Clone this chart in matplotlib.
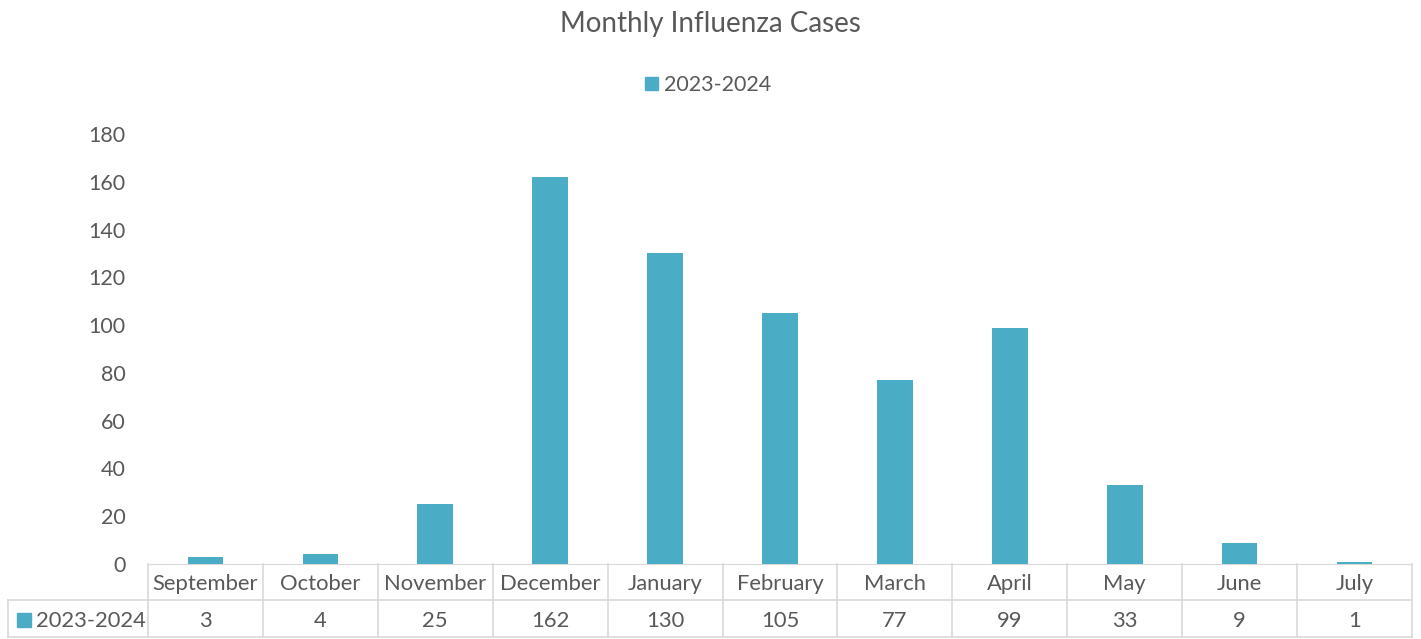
import matplotlib.pyplot as plt
from matplotlib.patches import Rectangle
import matplotlib.transforms as mtransforms

plt.rcParams['font.family'] = ['Lato', 'DejaVu Sans']

months = ['September', 'October', 'November', 'December', 'January', 'February',
          'March', 'April', 'May', 'June', 'July']
cases = [3, 4, 25, 162, 130, 105, 77, 99, 33, 9, 1]
series_name = '2023-2024'

bar_color = '#4BACC6'
text_color = '#595959'
line_color = '#D9D9D9'

fig = plt.figure(figsize=(14.21, 6.39), dpi=100)
W, H = 1421, 639
ax = fig.add_axes([148 / W, (H - 564) / H, 1264 / W, 430 / H])

x = list(range(len(months)))
ax.bar(x, cases, width=0.31, color=bar_color, zorder=3)
ax.set_xlim(-0.5, len(months) - 0.5)
ax.set_ylim(0, 180)
ax.set_yticks(range(0, 181, 20))
ax.tick_params(axis='y', length=0, pad=16, labelsize=15.5, labelcolor=text_color)
ax.set_xticks([])
for s in ['top', 'right', 'left']:
    ax.spines[s].set_visible(False)
ax.spines['bottom'].set_color(line_color)

# data table under the axis
trans = mtransforms.blended_transform_factory(ax.transData, ax.transAxes)
r1 = -36 / 430
r2 = -73 / 430
kw = dict(color=line_color, lw=1.2, transform=trans, clip_on=False)
ax.plot([-0.5, len(months) - 0.5], [r1, r1], **kw)
ax.plot([-0.5, len(months) - 0.5], [r2, r2], **kw)
left_x = -0.5 - 140 / (1264 / len(months))
ax.plot([left_x, -0.5], [r1, r1], **kw)
ax.plot([left_x, -0.5], [r2, r2], **kw)
ax.plot([left_x, left_x], [r1, r2], **kw)
for i in range(len(months) + 1):
    ax.plot([i - 0.5, i - 0.5], [0, r2], **kw)

dy = -2.5 / 430
for i, (m, v) in enumerate(zip(months, cases)):
    ax.text(i, r1 / 2 + dy, m, transform=trans, ha='center', va='center',
            fontsize=15.8, color=text_color)
    ax.text(i, (r1 + r2) / 2 + dy, str(v), transform=trans, ha='center', va='center',
            fontsize=15.8, color=text_color)

# series key in table
fig.patches.append(Rectangle((17 / W, (H - 627) / H), 14 / W, 14 / H,
                             color=bar_color, transform=fig.transFigure))
fig.text(36 / W, (H - 621) / H, series_name, ha='left', va='center',
         fontsize=15.8, color=text_color)

# legend
fig.patches.append(Rectangle((645 / W, (H - 90) / H), 13 / W, 13 / H,
                             color=bar_color, transform=fig.transFigure))
fig.text(664 / W, (H - 85) / H, series_name, ha='left', va='center',
         fontsize=15.5, color=text_color)

fig.text(0.5, (H - 24) / H, 'Monthly Influenza Cases', ha='center', va='center',
         fontsize=20, color=text_color)

fig.savefig('out.png', dpi=100)
